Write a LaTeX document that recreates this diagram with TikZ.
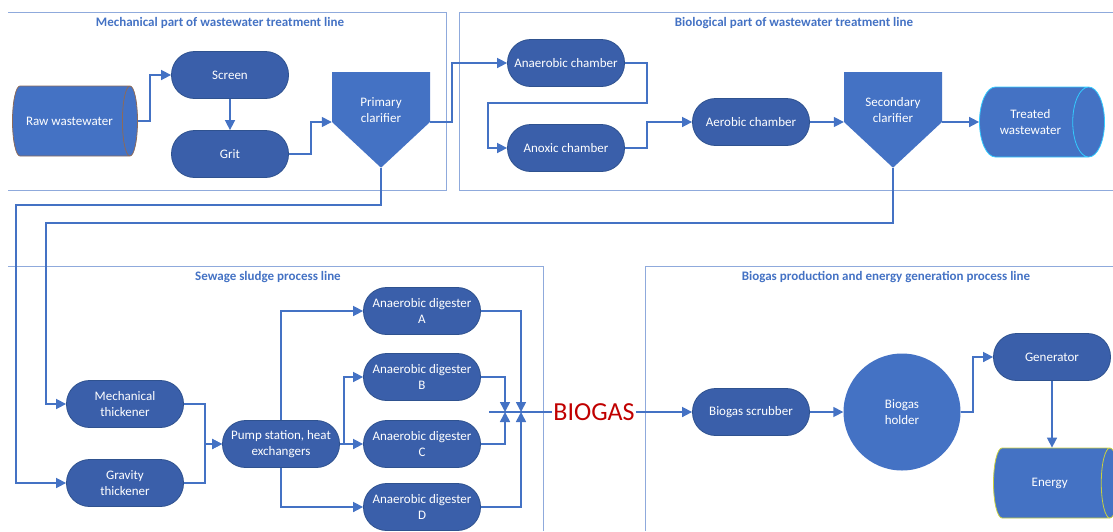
\documentclass[tikz,border=0pt]{standalone}
\usepackage{fontspec}
\setmainfont{Carlito}
\usetikzlibrary{arrows.meta,shapes.geometric,shapes.symbols}

\definecolor{lineblue}{HTML}{4472C4}
\definecolor{darkfill}{HTML}{3A5FAA}
\definecolor{darkedge}{HTML}{2F528F}
\definecolor{zoneedge}{HTML}{8FAADC}
\definecolor{gasred}{HTML}{C00000}
\definecolor{rawedge}{HTML}{8C6A5A}
\definecolor{cleanedge}{HTML}{33CCFF}
\definecolor{poweredge}{HTML}{C8D040}

\begin{document}
\begin{tikzpicture}[x=1pt,y=-1pt,->,>={Triangle[length=10pt,width=10pt]},
		font=\fontsize{13}{16}\selectfont]
		\tikzstyle{process}=[rectangle,rounded corners=23pt,fill=darkfill,draw=darkedge,line width=0.8pt,
			text=white,minimum width=117pt,minimum height=47pt,inner sep=1pt,align=center]
		\tikzstyle{tank}=[cylinder,aspect=1,anchor=shape center,fill=lineblue,line width=0.8pt,
			text=white,minimum height=125pt,minimum width=70pt,align=center]
		\tikzstyle{clarifier}=[signal,signal to=south,signal pointer angle=94,fill=lineblue,
			minimum width=98pt,minimum height=50pt,inner sep=0pt]
		\tikzstyle{holder}=[circle,fill=lineblue,minimum size=117pt,inner sep=0pt,text=white,align=center]
		\tikzstyle{zone}=[-,draw=zoneedge,line width=1pt]
		\tikzstyle{zonetitle}=[text=lineblue,font=\fontsize{13}{16}\selectfont\bfseries]
		\tikzstyle{flow}=[draw=lineblue,line width=1.6pt]
		\useasboundingbox (0,0) rectangle (1113,531);

		% process line boxes
		\draw[zone] (8,12) -- (446,12) -- (446,190) -- (8,190);
		\draw[zone] (1113,12) -- (459,12) -- (459,190) -- (1113,190);
		\draw[zone] (8,266) -- (543,266) -- (543,531);
		\draw[zone] (1113,266) -- (645,266) -- (645,531);
		\node[zonetitle] (mechtitle) at (220,23) {Mechanical part of wastewater treatment line};
		\node[zonetitle] (biotitle) at (794,23) {Biological part of wastewater treatment line};
		\node[zonetitle] (sludgetitle) at (268,277) {Sewage sludge process line};
		\node[zonetitle] (gastitle) at (886,277) {Biogas production and energy generation process line};

		% wastewater treatment
		\node[tank,draw=rawedge] (raw) at (75,121) {Raw wastewater};
		\node[process] (screen) at (230,75) {Screen};
		\node[process] (grit) [below of=screen,node distance=79pt] {Grit};
		\node[clarifier,label={[text=white,align=center,yshift=-13pt]center:Primary\\clarifier}] (prim) at (381,97) {};
		\node[process] (anaer) at (566,63) {Anaerobic chamber};
		\node[process] (anox) [below of=anaer,node distance=85pt] {Anoxic chamber};
		\node[process] (aer) at (751,122) {Aerobic chamber};
		\node[clarifier,label={[text=white,align=center,yshift=-13pt]center:Secondary\\clarifier}] (sec) at (893,97) {};
		\node[tank,draw=cleanedge] (treated) at (1042,122) {Treated\\wastewater};

		% sludge
		\node[process] (mech) at (125,404) {Mechanical\\thickener};
		\node[process] (grav) [below of=mech,node distance=79pt] {Gravity\\thickener};
		\node[process] (pump) at (281,444) {Pump station, heat\\exchangers};
		\node[process] (digA) at (422,311) {Anaerobic digester\\A};
		\node[process] (digB) [below of=digA,node distance=66pt] {Anaerobic digester\\B};
		\node[process] (digC) [below of=digB,node distance=67pt] {Anaerobic digester\\C};
		\node[process] (digD) [below of=digC,node distance=63pt] {Anaerobic digester\\D};
		\coordinate (mstart) at (489,412);
		\coordinate (jB) at (505,412);
		\coordinate (jA) at (521,412);

		% biogas and energy
		\node[text=gasred,font=\fontsize{26}{30}\selectfont,inner sep=1pt] (biogas) at (594,412) {BIOGAS};
		\node[process] (scrub) at (751,412) {Biogas scrubber};
		\node[holder] (holder) at (902,412) {Biogas\\holder};
		\node[process] (gen) at (1052,357) {Generator};
		\node[tank,draw=poweredge] (energy) at (1056,483) {Energy};

		\draw[flow] (raw.east) -- ++(12,0) |- (screen.west);
		\draw[flow] (screen) -- (grit);
		\draw[flow] (grit.east) -- ++(22,0) |- ([yshift=-25pt]prim.west);
		\draw[flow] ([yshift=-25pt]prim.east) -- ++(22,0) |- (anaer.west);
		\draw[flow] (anaer.east) -- ++(22,0) -- ++(0,40) -- ++(-159,0) |- (anox.west);
		\draw[flow] (anox.east) -- ++(22,0) |- (aer.west);
		\draw[flow] (aer.east) -- (aer.east -| sec.west);
		\draw[flow] ([yshift=-25pt]sec.east) -- (treated.west);
		\draw[flow] (prim.south) -- ++(0,37) -- ++(-365,0) |- (grav.west);
		\draw[flow] (sec.south) -- ++(0,55) -- ++(-847,0) |- (mech.west);
		\draw[flow] (mech.east) -- ++(21,0) |- (pump.west);
		\draw[flow] (grav.east) -- ++(21,0) |- (pump.west);
		\draw[flow] (pump.north) |- (digA.west);
		\draw[flow] (pump.east) -- ++(4,0) |- (digB.west);
		\draw[flow] (pump.east) -- (digC.west);
		\draw[flow] (pump.south) |- (digD.west);
		\draw[flow] (digA.east) -| (jA);
		\draw[flow] (digB.east) -| (jB);
		\draw[flow] (digC.east) -| (jB);
		\draw[flow] (digD.east) -| (jA);
		\draw[flow,-] (mstart) -- (biogas.west);
		\draw[flow] (biogas.east) -- (scrub.west);
		\draw[flow] (scrub.east) -- (holder.west);
		\draw[flow] (holder.east) -- ++(12,0) |- (gen.west);
		\draw[flow] (gen.south) -- (gen.south |- energy.north);
	\end{tikzpicture}
\end{document}
